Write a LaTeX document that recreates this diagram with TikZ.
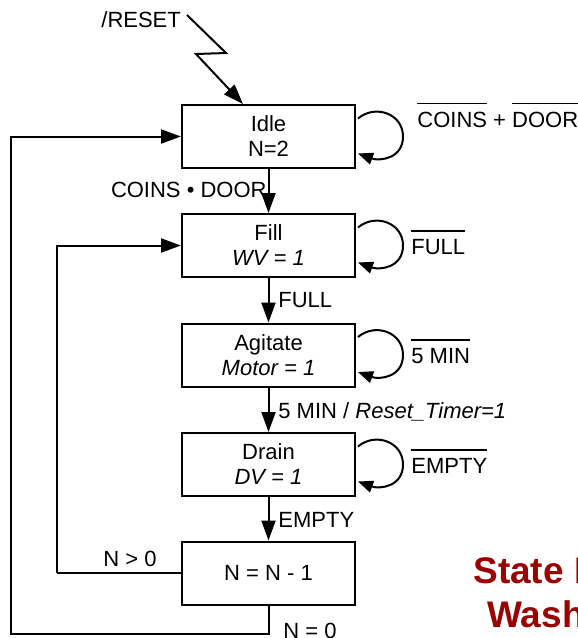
\documentclass[tikz,border=0pt]{standalone}
\usepackage{fontspec}
\setmainfont{Liberation Sans}
\usetikzlibrary{arrows.meta,positioning,calc}
\definecolor{lineColor}{RGB}{0,0,0}
\definecolor{titleRed}{RGB}{153,0,0}
\newcommand{\notsig}[1]{\setbox0\hbox{#1}\rlap{\rule[\dimexpr\ht0+3.6pt\relax]{\wd0}{0.7pt}}#1}

\begin{document}
\begin{tikzpicture}[
  x=0.5pt, y=-0.5pt,
  font=\fontsize{11}{12.5}\selectfont,
  state/.style={draw=lineColor, line width=1pt, fill=white, minimum width=86.5pt, minimum height=31.5pt, inner sep=0pt, align=center},
  cond/.style={anchor=base west, inner sep=0pt, text=lineColor},
  arrow/.style={-{Triangle[length=10pt, width=7pt]}, line width=1pt, draw=lineColor},
  looparrow/.style={-{Triangle[length=7.5pt, width=6pt]}, line width=1pt, draw=lineColor},
  wire/.style={line width=1pt, draw=lineColor},
  title/.style={anchor=base west, inner sep=0pt, font=\bfseries\fontsize{18.5}{22}\selectfont, text=titleRed}
]
\useasboundingbox (0,0) rectangle (578,638);
\clip (0,0) rectangle (578,638);

% States
\node[state] (idle)    at (268.5,136.5) {Idle\\N=2};
\node[state] (fill)    at (268.5,245.5) {Fill\\\textit{WV = 1}};
\node[state] (agitate) at (268.5,355)   {Agitate\\\textit{Motor = 1}};
\node[state] (drain)   at (268.5,464.5) {Drain\\\textit{DV = 1}};
\node[state] (count)   at (268.5,573)   {N = N - 1};

% Reset
\node[cond] (reset) at (101,27) {/RESET};
\coordinate (rst) at (187,15);
\draw[arrow] (rst) -- (226,53) -- (196,54) -- ($(idle.north west)+(62,0)$);

% Forward transitions
\draw[arrow] (idle.south) -- (fill.north);
\draw[arrow] (fill.south) -- (agitate.north);
\draw[arrow] (agitate.south) -- (drain.north);
\draw[arrow] (drain.south) -- (count.north);

\node[cond, anchor=base east] (coinsdoor) at (267,197) {COINS • DOOR};
\node[cond] (full)  at (278,307) {FULL};
\node[cond] (timer) at (278,418) {5 MIN / \textit{Reset\_Timer=1}};
\node[cond] (empty) at (278,527) {EMPTY};

% Self loops
\foreach \s in {idle,fill,agitate,drain} {
  \draw[looparrow] ($(\s.east)+(2,-18)$) to[out=40, in=90, looseness=1.2] ($(\s.east)+(47,0)$)
    to[out=-90, in=-20, looseness=1.2] ($(\s.east)+(2,17)$);
}
\node[cond] (waitcoins) at (417,127) {\notsig{COINS} + \notsig{DOOR}};
\node[cond] (waitfull)  at (411,254) {\notsig{FULL}};
\node[cond] (waitmin)   at (411,363) {\notsig{5 MIN}};
\node[cond] (waitempty) at (411,473) {\notsig{EMPTY}};

% Back transitions
\coordinate (inner) at (57,573);
\coordinate (outer) at (11,634);
\draw[wire] (count.west) -- (inner);
\draw[arrow] (inner) |- (fill.west);
\draw[arrow] (count.south) |- (outer) |- (idle.west);
\node[cond, anchor=base east] (more) at (157,566) {N > 0};
\node[cond] (done) at (283,638) {N = 0};

% Title
\node[title] (title1) at (473,583) {State Diagram};
\node[title] (title2) at (487,627) {Washing Machine};

\end{tikzpicture}
\end{document}
